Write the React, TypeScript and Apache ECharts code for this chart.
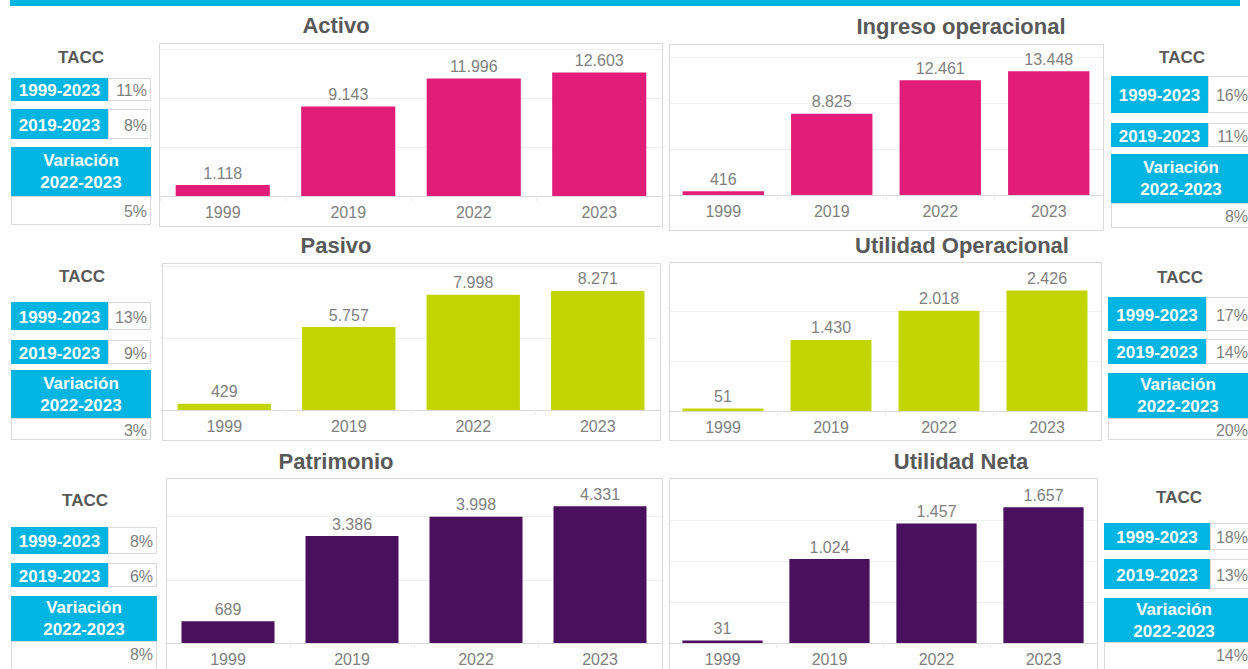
import React, { useEffect, useRef } from "react";
import * as echarts from "echarts";

const years = ["1999", "2019", "2022", "2023"];
const activo = [1118, 9143, 11996, 12603];
const ingreso = [416, 8825, 12461, 13448];
const pasivo = [429, 5757, 7998, 8271];
const utilOp = [51, 1430, 2018, 2426];
const patrimonio = [689, 3386, 3998, 4331];
const utilNeta = [31, 1024, 1457, 1657];

const titles = ["Activo", "Ingreso operacional", "Pasivo", "Utilidad Operacional", "Patrimonio", "Utilidad Neta"];
const periodLabels = ["1999-2023", "2019-2023"];
const tacc1999 = ["11%", "16%", "13%", "17%", "8%", "18%"];
const tacc2019 = ["8%", "11%", "9%", "14%", "6%", "13%"];
const var2223 = ["5%", "8%", "3%", "20%", "8%", "14%"];

const MAGENTA = "#E21C79";
const LIME = "#C2D500";
const PURPLE = "#48105E";
const CYAN = "#00B5E2";
const GRAY_TXT = "#7f7f7f";
const TITLE_TXT = "#595959";
const BORDER = "#d9d9d9";

const seriesData = [activo, ingreso, pasivo, utilOp, patrimonio, utilNeta];
const colors = [MAGENTA, MAGENTA, LIME, LIME, PURPLE, PURPLE];
const axisMax = [15000, 15000, 10000, 3000, 5000, 2000];
const axisInterval = [5000, 5000, 5000, 1000, 2000, 500];
const showMaxLine = [true, true, true, false, false, false];

// layout
const grids = [
  { left: 160, top: 49, width: 502, height: 147 },
  { left: 669, top: 57, width: 434, height: 138 },
  { left: 162, top: 266, width: 498, height: 144 },
  { left: 669, top: 262, width: 432, height: 149 },
  { left: 166, top: 485, width: 496, height: 158 },
  { left: 669, top: 479, width: 428, height: 164 },
];
const boxes = [
  { x: 159, y: 43, w: 503, h: 183 },
  { x: 669, y: 44, w: 434, h: 186 },
  { x: 162, y: 263, w: 498, h: 177 },
  { x: 669, y: 262, w: 432, h: 178 },
  { x: 166, y: 478, w: 496, h: 195 },
  { x: 669, y: 478, w: 428, h: 195 },
];
const titlePos = [
  [336, 25], [961, 26], [336, 245], [962, 245], [336, 461], [961, 461],
];
// TACC tables: cx,cy of "TACC"; x0 cyan left, x1 cyan right / value left, x2 value right; row y ranges
const taccLayout = [
  { tx: 81, ty: 57, x0: 11, x1: 108, x2: 151, r1: [78, 101], r2: [109, 139], r3: [147, 196], r4: [196, 225] },
  { tx: 1182, ty: 57, x0: 1111, x1: 1208, x2: 1252, r1: [76, 113], r2: [123, 147], r3: [154, 203], r4: [203, 228] },
  { tx: 82, ty: 276, x0: 11, x1: 108, x2: 151, r1: [302, 330], r2: [340, 364], r3: [370, 418], r4: [418, 440] },
  { tx: 1180, ty: 277, x0: 1108, x1: 1206, x2: 1252, r1: [297, 331], r2: [339, 364], r3: [373, 418], r4: [418, 440] },
  { tx: 85, ty: 500, x0: 11, x1: 108, x2: 157, r1: [527, 554], r2: [563, 587], r3: [596, 641], r4: [641, 672] },
  { tx: 1179, ty: 497, x0: 1104, x1: 1210, x2: 1252, r1: [523, 550], r2: [559, 589], r3: [598, 642], r4: [642, 672] },
];

const fmt = (v: number) => String(v).replace(/\B(?=(\d{3})+(?!\d))/g, ".");

const FONT = "'Liberation Sans', Arial, sans-serif";

function buildGraphic() {
  const els: any[] = [];
  // top banner
  els.push({ type: "rect", shape: { x: 10, y: 0, width: 1230, height: 6 }, style: { fill: CYAN } });
  for (let i = 0; i < 6; i++) {
    const b = boxes[i];
    els.push({
      type: "rect",
      shape: { x: b.x + 0.5, y: b.y + 0.5, width: b.w, height: b.h },
      style: { fill: "none", stroke: BORDER, lineWidth: 1 },
      z: 10,
    });
    els.push({
      type: "text",
      x: titlePos[i][0],
      y: titlePos[i][1],
      style: {
        text: titles[i],
        fill: TITLE_TXT,
        font: `bold 22px ${FONT}`,
        textAlign: "center",
        textVerticalAlign: "middle",
      },
    });
    const t = taccLayout[i];
    els.push({
      type: "text",
      x: t.tx,
      y: t.ty,
      style: { text: "TACC", fill: TITLE_TXT, font: `bold 17px ${FONT}`, textAlign: "center", textVerticalAlign: "middle" },
    });
    const rows = [t.r1, t.r2];
    const vals = [tacc1999[i], tacc2019[i]];
    rows.forEach((r, k) => {
      els.push({ type: "rect", shape: { x: t.x0, y: r[0], width: t.x1 - t.x0, height: r[1] - r[0] }, style: { fill: CYAN } });
      els.push({
        type: "rect",
        shape: { x: t.x1 + 0.5, y: r[0] + 0.5, width: t.x2 - t.x1 - 1, height: r[1] - r[0] - 1 },
        style: { fill: "#fff", stroke: BORDER, lineWidth: 1 },
      });
      els.push({
        type: "text",
        x: (t.x0 + t.x1) / 2,
        y: (r[0] + r[1]) / 2 + 1,
        style: { text: periodLabels[k], fill: "#fff", font: `bold 17px ${FONT}`, textAlign: "center", textVerticalAlign: "middle" },
      });
      els.push({
        type: "text",
        x: t.x2 - 4,
        y: (r[0] + r[1]) / 2 + 1,
        style: { text: vals[k], fill: GRAY_TXT, font: `16px ${FONT}`, textAlign: "right", textVerticalAlign: "middle" },
      });
    });
    // Variación block
    els.push({ type: "rect", shape: { x: t.x0, y: t.r3[0], width: t.x2 - t.x0, height: t.r3[1] - t.r3[0] }, style: { fill: CYAN } });
    const cx = Math.min((t.x0 + t.x2) / 2, t.x0 + 70);
    const midY = (t.r3[0] + t.r3[1]) / 2;
    els.push({
      type: "text",
      x: i % 2 === 1 ? t.x0 + 70 : (t.x0 + t.x2) / 2,
      y: midY - 11,
      style: { text: "Variación", fill: "#fff", font: `bold 17px ${FONT}`, textAlign: "center", textVerticalAlign: "middle" },
    });
    els.push({
      type: "text",
      x: i % 2 === 1 ? t.x0 + 70 : (t.x0 + t.x2) / 2,
      y: midY + 11,
      style: { text: "2022-2023", fill: "#fff", font: `bold 17px ${FONT}`, textAlign: "center", textVerticalAlign: "middle" },
    });
    void cx;
    els.push({
      type: "rect",
      shape: { x: t.x0 + 0.5, y: t.r4[0] + 0.5, width: t.x2 - t.x0 - 1, height: t.r4[1] - t.r4[0] - 1 },
      style: { fill: "#fff", stroke: BORDER, lineWidth: 1 },
    });
    els.push({
      type: "text",
      x: t.x2 - 4,
      y: (t.r4[0] + t.r4[1]) / 2 + (i >= 4 ? -2 : 1),
      style: { text: var2223[i], fill: GRAY_TXT, font: `16px ${FONT}`, textAlign: "right", textVerticalAlign: "middle" },
    });
  }
  return els;
}

export default function App() {
  const ref = useRef<HTMLDivElement>(null);
  useEffect(() => {
    if (!ref.current) return;
    const chart = echarts.init(ref.current, undefined, { renderer: "svg" });
    const option: any = {
      animation: false,
      backgroundColor: "#fff",
      grid: grids.map((g) => ({ ...g, containLabel: false })),
      xAxis: grids.map((_, i) => ({
        type: "category",
        gridIndex: i,
        data: years,
        axisLine: { show: true, lineStyle: { color: BORDER, width: 1 } },
        axisTick: { show: true, length: 5, lineStyle: { color: "#ececec" } },
        axisLabel: { color: GRAY_TXT, fontSize: 16, fontFamily: FONT, margin: 8 },
        splitLine: { show: false },
      })),
      yAxis: grids.map((_, i) => ({
        type: "value",
        gridIndex: i,
        min: 0,
        max: axisMax[i],
        interval: axisInterval[i],
        axisLabel: { show: false },
        axisLine: { show: false },
        axisTick: { show: false },
        splitLine: { show: true, showMaxLine: showMaxLine[i], lineStyle: { color: "#efefef", width: 1 } },
      })),
      series: seriesData.map((d, i) => ({
        type: "bar",
        xAxisIndex: i,
        yAxisIndex: i,
        data: d,
        barCategoryGap: "25%",
        itemStyle: { color: colors[i] },
        label: {
          show: true,
          position: "top",
          distance: 4,
          color: GRAY_TXT,
          fontSize: 16,
          fontFamily: FONT,
          formatter: (p: any) => fmt(p.value),
        },
      })),
      graphic: buildGraphic(),
    };
    chart.setOption(option);
    return () => chart.dispose();
  }, []);
  return <div ref={ref} style={{ position: "fixed", left: 0, top: 0, width: 1248, height: 669 }} />;
}
